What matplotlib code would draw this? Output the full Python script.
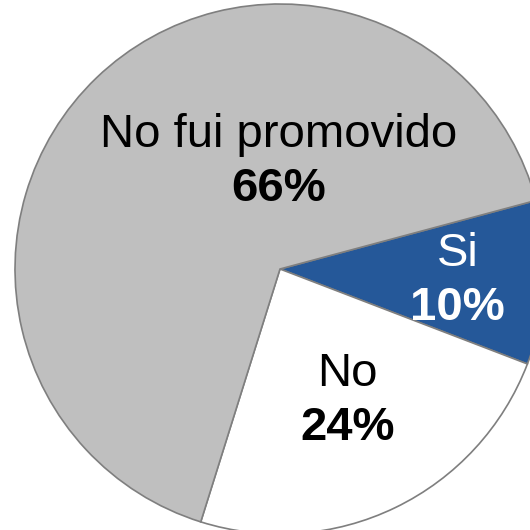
import matplotlib.pyplot as plt

# Survey answers (percent)
categories = ['Si', 'No', 'No fui promovido']
values = [10, 24, 66]
colors = ['#255899', '#FFFFFF', '#BFBFBF']
text_colors = ['white', 'black', 'black']
# label placement as fraction of radius relative to pie centre (x, y)
label_offsets = [(0.67, -0.089), (0.255, -0.542), (-0.006, 0.360)]

plt.rcParams['font.family'] = ['Liberation Sans', 'DejaVu Sans']

fig = plt.figure(figsize=(5.3, 5.3), dpi=100)
ax = fig.add_axes([0, 0, 1, 1])

cx, cy, r = 280, 261, 265
ax.pie(
    values,
    colors=colors,
    startangle=15,
    counterclock=False,
    center=(cx, cy),
    radius=r,
    wedgeprops=dict(edgecolor='#7F7F7F', linewidth=1.2),
)

half_gap = 27
for cat, val, tc, (fx, fy) in zip(categories, values, text_colors, label_offsets):
    x, y = cx + fx * r, cy + fy * r
    ax.text(x, y + half_gap, cat, ha='center', va='baseline', fontsize=34, color=tc)
    ax.text(x, y - half_gap, f'{val}%', ha='center', va='baseline', fontsize=34,
            fontweight='bold', color=tc)

ax.set_xlim(0, 530)
ax.set_ylim(0, 530)
ax.set_aspect('equal')
ax.axis('off')

plt.savefig('out.png', dpi=100)
plt.close()
